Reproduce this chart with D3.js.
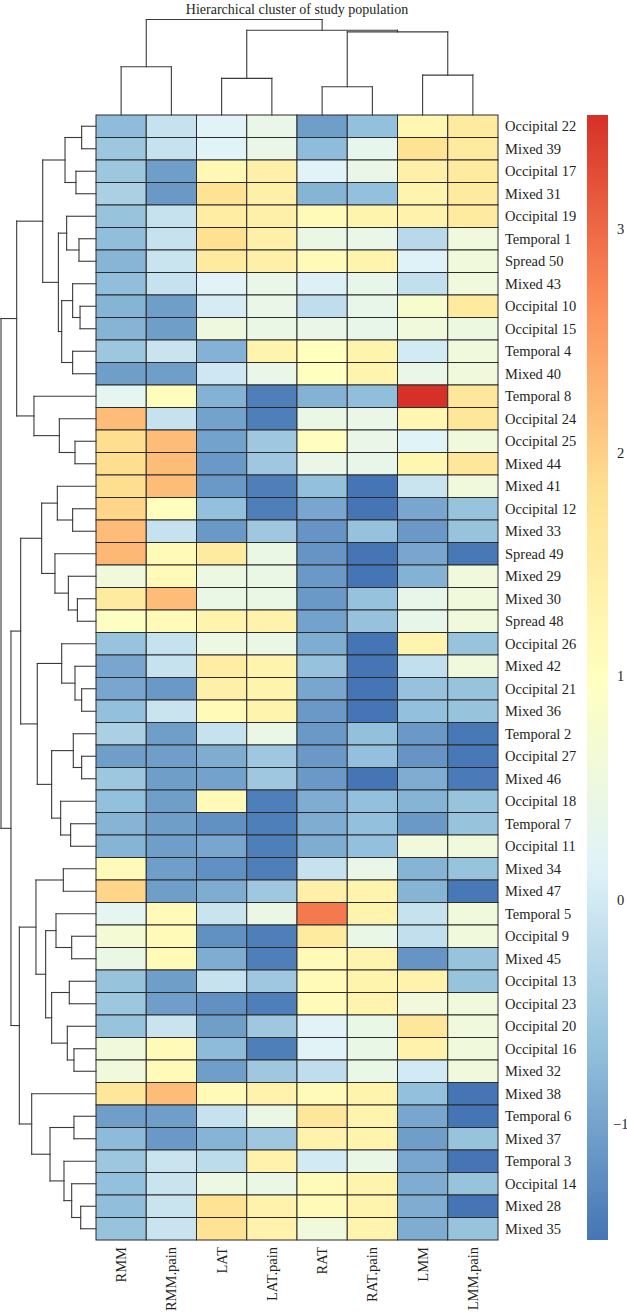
<!DOCTYPE html>
<html>
<head>
<meta charset="utf-8">
<script src="https://cdn.jsdelivr.net/npm/d3@7"></script>
<style>
  html, body { margin: 0; padding: 0; background: #fff; }
  svg { display: block; }
  text { font-family: "Liberation Serif", "Times New Roman", serif; fill: #231f20; }
</style>
</head>
<body>
<svg id="chart" width="627" height="1314"></svg>
<script>
// ---------- DATA ----------
const title = "Hierarchical cluster of study population";

const colLabels = ["RMM", "RMM.pain", "LAT", "LAT.pain", "RAT", "RAT.pain", "LMM", "LMM.pain"];

const rowLabels = [
  "Occipital 22", "Mixed 39", "Occipital 17", "Mixed 31", "Occipital 19", "Temporal 1",
  "Spread 50", "Mixed 43", "Occipital 10", "Occipital 15", "Temporal 4", "Mixed 40",
  "Temporal 8", "Occipital 24", "Occipital 25", "Mixed 44", "Mixed 41", "Occipital 12",
  "Mixed 33", "Spread 49", "Mixed 29", "Mixed 30", "Spread 48", "Occipital 26",
  "Mixed 42", "Occipital 21", "Mixed 36", "Temporal 2", "Occipital 27", "Mixed 46",
  "Occipital 18", "Temporal 7", "Occipital 11", "Mixed 34", "Mixed 47", "Temporal 5",
  "Occipital 9", "Mixed 45", "Occipital 13", "Occipital 23", "Occipital 20", "Occipital 16",
  "Mixed 32", "Mixed 38", "Temporal 6", "Mixed 37", "Temporal 3", "Occipital 14",
  "Mixed 28", "Mixed 35"
];

// one array per row, columns in colLabels order
const values = [
  [-0.71, -0.11, 0.19, 0.39, -1.06, -0.66, 1.24, 1.54],
  [-0.56, -0.11, 0.19, 0.39, -0.71, 0.34, 1.74, 1.54],
  [-0.56, -1.06, 1.19, 1.39, 0.19, 0.39, 1.39, 1.54],
  [-0.41, -1.11, 1.74, 1.39, -0.81, -0.66, 1.29, 1.54],
  [-0.61, -0.11, 1.49, 1.39, 1.14, 1.29, 1.34, 1.54],
  [-0.69, -0.11, 1.79, 1.39, 0.44, 0.39, -0.26, 0.59],
  [-0.79, -0.09, 1.54, 1.39, 1.14, 1.29, 0.14, 0.59],
  [-0.69, -0.11, 0.19, 0.39, 0.11, 0.37, -0.16, 0.59],
  [-0.81, -1.06, 0.04, 0.39, -0.19, 0.37, 0.79, 1.54],
  [-0.81, -1.06, 0.54, 0.44, 0.39, 0.37, 0.59, 0.51],
  [-0.56, -0.09, -0.83, 1.29, 0.99, 1.29, 0.01, 0.59],
  [-1.06, -1.06, -0.03, 0.39, 0.99, 1.29, 0.39, 0.59],
  [0.29, 1.04, -0.83, -1.41, -0.83, -0.69, 3.51, 1.64],
  [2.19, -0.11, -1.01, -1.41, 0.44, 0.39, 1.24, 1.64],
  [1.84, 2.19, -1.01, -0.53, 1.01, 0.39, 0.17, 0.59],
  [1.84, 2.19, -1.11, -0.53, 0.39, 0.37, 1.24, 1.64],
  [1.84, 2.19, -1.11, -1.41, -0.66, -1.52, -0.09, 0.59],
  [1.94, 1.01, -0.66, -1.41, -0.96, -1.52, -0.96, -0.61],
  [2.19, -0.11, -1.11, -0.53, -1.16, -0.63, -1.11, -0.61],
  [2.24, 1.14, 1.54, 0.44, -1.16, -1.52, -0.96, -1.49],
  [0.59, 1.14, 0.49, 0.44, -1.11, -1.52, -0.83, 0.59],
  [1.54, 2.19, 0.44, 0.44, -1.11, -0.63, 0.37, 0.59],
  [0.94, 1.14, 1.29, 1.34, -1.01, -0.63, 0.37, 0.59],
  [-0.61, -0.11, 0.49, 0.44, -0.89, -1.52, 1.29, -0.61],
  [-0.96, -0.11, 1.49, 1.29, -0.63, -1.52, -0.16, 0.59],
  [-0.96, -1.11, 1.39, 1.29, -0.96, -1.52, -0.63, -0.61],
  [-0.66, -0.09, 1.14, 1.29, -1.11, -1.52, -0.66, -0.61],
  [-0.41, -1.06, -0.11, 0.44, -1.11, -0.66, -1.11, -1.49],
  [-1.06, -1.06, -0.89, -0.53, -1.11, -0.66, -1.16, -1.49],
  [-0.56, -1.06, -1.01, -0.53, -1.11, -1.52, -0.89, -1.46],
  [-0.66, -1.06, 1.14, -1.41, -0.89, -0.66, -0.81, -0.61],
  [-0.81, -1.06, -1.21, -1.41, -0.89, -0.66, -1.11, -0.61],
  [-0.81, -1.06, -0.96, -1.41, -0.89, -0.66, 0.59, 0.59],
  [1.14, -1.06, -1.21, -1.41, -0.11, 0.39, -0.81, -0.61],
  [1.94, -1.06, -0.89, -0.53, 1.39, 1.29, -0.81, -1.49],
  [0.29, 1.14, -0.09, 0.44, 2.85, 1.29, -0.11, 0.59],
  [0.69, 1.14, -1.21, -1.41, 1.54, 0.41, -0.16, 0.59],
  [0.44, 1.14, -0.89, -1.41, 1.14, 1.29, -1.16, -0.61],
  [-0.61, -1.06, -0.11, -0.53, 1.14, 1.29, 1.34, -0.61],
  [-0.56, -1.06, -1.21, -1.41, 1.14, 1.29, 0.59, 0.59],
  [-0.61, -0.09, -1.06, -0.53, 0.19, 0.41, 1.64, 0.59],
  [0.59, 1.14, -0.73, -1.41, 0.19, 0.41, 1.34, 0.59],
  [0.59, 1.14, -1.06, -0.53, -0.19, 0.41, 0.01, 0.59],
  [1.64, 2.19, 1.14, 1.34, 1.14, 1.29, -0.66, -1.52],
  [-1.06, -1.06, -0.11, 0.44, 1.64, 1.29, -0.96, -1.52],
  [-0.73, -1.11, -0.81, -0.53, 1.34, 1.29, -1.06, -0.61],
  [-0.56, -0.09, -0.21, 1.34, 0.01, 0.41, -0.96, -1.52],
  [-0.66, -0.09, 0.49, 0.44, 1.14, 1.29, -0.89, -0.61],
  [-0.69, -0.09, 1.74, 1.34, 1.14, 1.29, -0.89, -1.52],
  [-0.61, -0.09, 1.74, 1.34, 0.59, 1.29, -0.89, -0.61]
];

const legendTicks = [-1, 0, 1, 2, 3];
const legendTickLabels = ["\u22121", "0", "1", "2", "3"];
const paletteColors = ["#4575B4", "#91BFDB", "#E0F3F8", "#FFFFBF", "#FEE090", "#FC8D59", "#D73027"];

// dendrograms: [mergeHeight, left, right], leaves are indices
const colTree = [10, [5.05, 0, 1], [8.88, [3.83, 2, 3], [8.70, [2.96, 4, 5], [4.18, 6, 7]]]];

const rowTree =
  [10,
    [8.35,
      [5.61,
        [3.26, [1.51, 0, 1], [2.11, 2, 3]],
        [3.96,
          [3.09, 4, [1.79, 5, 6]],
          [3.61, [2.46, 7, [1.68, 8, 9]], [2.46, 10, 11]]]],
      [6.53, 12, [3.86, 13, [2.21, 14, 15]]]],
    [8.95,
      [7.93,
        [5.72,
          [4.07, 16, [2.46, 17, 18]],
          [4.32, 19, [2.91, 20, [1.96, 21, 22]]]],
        [6.18,
          [3.61, 23, [2.21, 24, [1.51, 25, 26]]],
          [4.67,
            [2.39, 27, [1.51, 28, 29]],
            [3.72, 30, [2.67, 31, 32]]]]],
      [8.07,
        [6.32,
          [3.44, 33, 34],
          [5.30,
            [4.21, 35, [2.56, 36, 37]],
            [4.67, [2.81, 38, 39], [3.02, 40, [2.32, 41, 42]]]]],
        [6.77, 43,
          [4.84, [2.32, 44, 45], [3.37, 46, [2.56, 47, [1.61, 48, 49]]]]]]]];

// ---------- LAYOUT ----------
const hm = { left: 96, right: 498, top: 115, bottom: 1240 };
const fontSize = 14.5;
const svg = d3.select("#chart");
svg.append("rect").attr("width", 627).attr("height", 1314).attr("fill", "#fff");

const x = d3.scaleBand().domain(d3.range(colLabels.length)).range([hm.left, hm.right]);
const y = d3.scaleBand().domain(d3.range(rowLabels.length)).range([hm.top, hm.bottom]);

const vMin = d3.min(values.flat()), vMax = d3.max(values.flat());
const stops = d3.range(paletteColors.length).map(i => vMin + (vMax - vMin) * i / (paletteColors.length - 1));
const color = d3.scaleLinear().domain(stops).range(paletteColors).interpolate(d3.interpolateRgb);

// cells
const cells = [];
values.forEach((row, r) => row.forEach((v, c) => cells.push({ r, c, v })));
svg.append("g").selectAll("rect").data(cells).join("rect")
  .attr("x", d => x(d.c))
  .attr("y", d => y(d.r))
  .attr("width", x.bandwidth())
  .attr("height", y.bandwidth())
  .attr("fill", d => color(d.v))
  .attr("stroke", "#2b2b2b")
  .attr("stroke-width", 1);

// row labels
svg.append("g").selectAll("text").data(rowLabels).join("text")
  .attr("x", hm.right + 7)
  .attr("y", (d, i) => y(i) + y.bandwidth() / 2)
  .attr("dy", "0.35em")
  .attr("font-size", fontSize)
  .text(d => d);

// column labels
svg.append("g").selectAll("text").data(colLabels).join("text")
  .attr("transform", (d, i) => `translate(${x(i) + x.bandwidth() / 2},${hm.bottom + 7}) rotate(-90)`)
  .attr("text-anchor", "end")
  .attr("dy", "0.35em")
  .attr("font-size", fontSize)
  .text(d => d);

// title
svg.append("text")
  .attr("x", (hm.left + hm.right) / 2)
  .attr("y", 13.5)
  .attr("text-anchor", "middle")
  .attr("font-size", 14)
  .text(title);

// ---------- DENDROGRAMS ----------
function layout(node, pos) {
  if (typeof node === "number") return { h: 0, p: pos(node) };
  const a = layout(node[1], pos), b = layout(node[2], pos);
  return { h: node[0], p: (a.p + b.p) / 2, a, b };
}
function segments(n, out) {
  if (!n.a) return out;
  out.push({ h1: n.h, p1: n.a.p, h2: n.h, p2: n.b.p });
  out.push({ h1: n.h, p1: n.a.p, h2: n.a.h, p2: n.a.p });
  out.push({ h1: n.h, p1: n.b.p, h2: n.b.h, p2: n.b.p });
  segments(n.a, out); segments(n.b, out);
  return out;
}

// row dendrogram (left)
const rowH = d3.scaleLinear().domain([0, rowTree[0]]).range([hm.left, 1]);
const rowSegs = segments(layout(rowTree, i => y(i) + y.bandwidth() / 2), []);
svg.append("g").selectAll("line").data(rowSegs).join("line")
  .attr("x1", d => rowH(d.h1)).attr("x2", d => rowH(d.h2))
  .attr("y1", d => d.p1).attr("y2", d => d.p2)
  .attr("stroke", "#3a3a3a").attr("stroke-width", 1.1).attr("stroke-linecap", "square");

// column dendrogram (top)
const colH = d3.scaleLinear().domain([0, colTree[0]]).range([hm.top, 19.5]);
const colSegs = segments(layout(colTree, i => x(i) + x.bandwidth() / 2), []);
svg.append("g").selectAll("line").data(colSegs).join("line")
  .attr("y1", d => colH(d.h1)).attr("y2", d => colH(d.h2))
  .attr("x1", d => d.p1).attr("x2", d => d.p2)
  .attr("stroke", "#3a3a3a").attr("stroke-width", 1.1).attr("stroke-linecap", "square");

// ---------- LEGEND ----------
const lg = { x: 587, w: 21 };
const ly = d3.scaleLinear().domain([vMin, vMax]).range([hm.bottom, hm.top]);
const defs = svg.append("defs");
const grad = defs.append("linearGradient").attr("id", "lgrad")
  .attr("x1", 0).attr("y1", 1).attr("x2", 0).attr("y2", 0);
grad.selectAll("stop").data(d3.range(0, 1.0001, 0.02)).join("stop")
  .attr("offset", d => d)
  .attr("stop-color", d => color(vMin + d * (vMax - vMin)));
svg.append("rect")
  .attr("x", lg.x).attr("y", ly(vMax))
  .attr("width", lg.w).attr("height", ly(vMin) - ly(vMax))
  .attr("fill", "url(#lgrad)");
svg.append("g").selectAll("text").data(legendTicks).join("text")
  .attr("x", (d) => d < 0 ? lg.x + lg.w + 5 : lg.x + lg.w + 9)
  .attr("y", d => ly(d))
  .attr("dy", "0.35em")
  .attr("font-size", fontSize)
  .text((d, i) => legendTickLabels[i]);
</script>
</body>
</html>
